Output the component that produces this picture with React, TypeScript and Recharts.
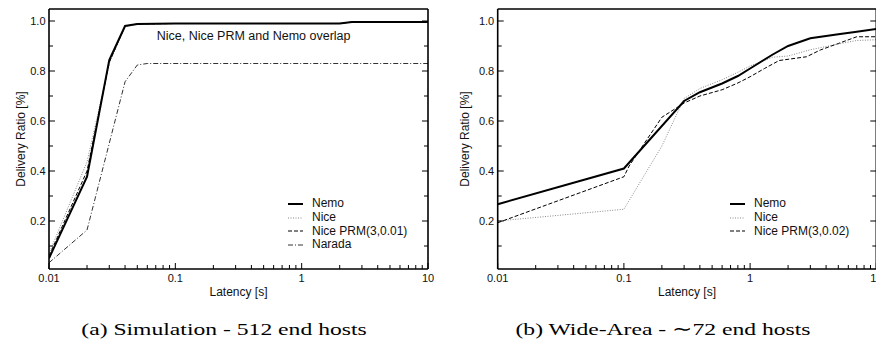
import React from "react";
import { LineChart, Line, XAxis, YAxis, Label } from "recharts";

// axis ticks
const LATENCY_TICKS = [
  0.01, 0.02, 0.03, 0.04, 0.05, 0.06, 0.07, 0.08, 0.09,
  0.1, 0.2, 0.3, 0.4, 0.5, 0.6, 0.7, 0.8, 0.9,
  1, 2, 3, 4, 5, 6, 7, 8, 9, 10,
];
const LATENCY_LABELS = [0.01, 0.1, 1, 10];
const RATIO_TICKS = [0.1, 0.2, 0.3, 0.4, 0.5, 0.6, 0.7, 0.8, 0.9, 1.0];
const RATIO_LABELS = [0.2, 0.4, 0.6, 0.8, 1.0];

// (a) simulation, 512 end hosts
const simLatency = [0.01, 0.02, 0.03, 0.04, 0.05, 0.1, 1, 2, 2.5, 10];
const simNemo = [0.051, 0.377, 0.844, 0.98, 0.988, 0.99, 0.99, 0.99, 0.996, 0.996];
const simNice = [0.07, 0.437, 0.83, 0.978, 0.988, 0.99, 0.99, 0.99, 0.996, 0.996];
const simNicePrm = [0.06, 0.4, 0.835, 0.979, 0.988, 0.99, 0.99, 0.99, 0.996, 0.996];
const naradaLatency = [0.01, 0.02, 0.04, 0.05, 0.06, 10];
const simNarada = [0.033, 0.164, 0.757, 0.824, 0.83, 0.83];

// (b) wide-area, ~72 end hosts
const wanNemoLatency = [0.01, 0.1, 0.3, 0.4, 0.6, 0.8, 1, 1.5, 2, 3, 5, 7, 10];
const wanNemo = [0.267, 0.41, 0.68, 0.715, 0.75, 0.78, 0.81, 0.865, 0.9, 0.931, 0.947, 0.957, 0.968];
const wanNiceLatency = [0.01, 0.1, 0.2, 0.3, 0.4, 0.6, 0.8, 1, 1.5, 2, 3, 5, 7, 10];
const wanNice = [0.2, 0.247, 0.5, 0.69, 0.73, 0.765, 0.795, 0.82, 0.855, 0.86, 0.885, 0.908, 0.922, 0.925];
const wanPrmLatency = [0.01, 0.1, 0.11, 0.2, 0.3, 0.4, 0.6, 0.8, 1, 1.3, 1.7, 2.3, 2.8, 3.6, 5, 7, 10];
const wanPrm = [0.193, 0.377, 0.42, 0.615, 0.672, 0.7, 0.725, 0.752, 0.777, 0.81, 0.842, 0.851, 0.857, 0.884, 0.91, 0.937, 0.937];

const zip = (xs: number[], ys: number[]) => xs.map((x, i) => ({ x, y: ys[i] }));

const SANS = "'Liberation Sans', Arial, Helvetica, sans-serif";
const SERIF = "'Liberation Serif', 'Times New Roman', serif";
const INK = "#111";
const FRAME = { stroke: "#000", strokeWidth: 1.6 };

type Style = { name: string; stroke: string; width: number; dash?: string };
const NEMO: Style = { name: "Nemo", stroke: "#000", width: 2 };
const NICE: Style = { name: "Nice", stroke: "#888", width: 1, dash: "1 1.5" };
const NARADA: Style = { name: "Narada", stroke: "#333", width: 1, dash: "5 2 1 2" };

const tickLen = (major: boolean) => (major ? 6 : 4);

const BottomTick = (p: any) => {
  const major = LATENCY_LABELS.includes(p.payload.value);
  return (
    <g>
      <line x1={p.x} x2={p.x} y1={p.y} y2={p.y - tickLen(major)} stroke="#000" />
      {major && (
        <text x={p.x} y={p.y + 13} textAnchor="middle" fontSize={11} fontFamily={SANS} fill={INK}>
          {String(p.payload.value)}
        </text>
      )}
    </g>
  );
};

const TopTick = (p: any) => {
  const major = LATENCY_LABELS.includes(p.payload.value);
  return <line x1={p.x} x2={p.x} y1={p.y} y2={p.y + tickLen(major)} stroke="#000" />;
};

const LeftTick = (p: any) => {
  const major = RATIO_LABELS.includes(p.payload.value);
  return (
    <g>
      <line x1={p.x} x2={p.x + tickLen(major)} y1={p.y} y2={p.y} stroke="#000" />
      {major && (
        <text x={p.x - 3.5} y={p.y + 4} textAnchor="end" fontSize={11} fontFamily={SANS} fill={INK}>
          {p.payload.value.toFixed(1)}
        </text>
      )}
    </g>
  );
};

const RightTick = (p: any) => {
  const major = RATIO_LABELS.includes(p.payload.value);
  return <line x1={p.x} x2={p.x - tickLen(major)} y1={p.y} y2={p.y} stroke="#000" />;
};

function Panel({
  series,
  margin,
  width,
  yTitleGap,
}: {
  series: { style: Style; data: { x: number; y: number }[] }[];
  margin: { top: number; right: number; bottom: number; left: number };
  width: number;
  yTitleGap: number;
}) {
  // axes get a 1px band so recharts still draws them; ticks sit on the plot edge
  const xCommon = {
    type: "number" as const,
    scale: "log" as const,
    domain: [0.01, 10],
    allowDataOverflow: true,
    ticks: LATENCY_TICKS,
    interval: 0 as const,
    height: 1,
    tickSize: 0,
    tickMargin: 0,
    tickLine: false,
    axisLine: FRAME,
  };
  const yCommon = {
    type: "number" as const,
    domain: [0.008, 1.048],
    allowDataOverflow: true,
    ticks: RATIO_TICKS,
    interval: 0 as const,
    width: 1,
    tickSize: 0,
    tickMargin: 0,
    tickLine: false,
    axisLine: FRAME,
  };
  return (
    <LineChart width={width} height={310} margin={margin}>
      <XAxis dataKey="x" {...xCommon} tick={BottomTick}>
        <Label
          content={(lp: any) => (
            <text
              x={lp.viewBox.x + lp.viewBox.width / 2}
              y={lp.viewBox.y + 26.5}
              textAnchor="middle"
              fontSize={12}
              fontFamily={SANS}
              fill={INK}
            >
              Latency [s]
            </text>
          )}
        />
      </XAxis>
      <XAxis xAxisId="top" orientation="top" {...xCommon} tick={TopTick} />
      <YAxis {...yCommon} tick={LeftTick}>
        <Label
          content={(lp: any) => {
            const cx = lp.viewBox.x + lp.viewBox.width - yTitleGap;
            const cy = lp.viewBox.y + lp.viewBox.height / 2;
            return (
              <text
                x={cx}
                y={cy}
                transform={`rotate(-90 ${cx} ${cy})`}
                textAnchor="middle"
                fontSize={12}
                fontFamily={SANS}
                fill={INK}
              >
                Delivery Ratio [%]
              </text>
            );
          }}
        />
      </YAxis>
      <YAxis yAxisId="right" orientation="right" {...yCommon} tick={RightTick} />
      {series.map((s) => (
        <Line
          key={s.style.name}
          data={s.data}
          dataKey="y"
          type="linear"
          stroke={s.style.stroke}
          strokeWidth={s.style.width}
          strokeDasharray={s.style.dash}
          dot={false}
          activeDot={false}
          isAnimationActive={false}
        />
      ))}
    </LineChart>
  );
}

function LegendBox({ items, left, top }: { items: Style[]; left: number; top: number }) {
  return (
    <div style={{ position: "absolute", left, top, fontFamily: SANS, fontSize: 12, color: INK }}>
      {items.map((it) => (
        <div key={it.name} style={{ display: "flex", alignItems: "center", height: 13.8 }}>
          <svg width={15} height={6} style={{ marginRight: 9 }}>
            <line x1={0} x2={15} y1={3} y2={3} stroke={it.stroke} strokeWidth={it.width} strokeDasharray={it.dash} />
          </svg>
          <span style={{ lineHeight: "13.8px", whiteSpace: "nowrap" }}>{it.name}</span>
        </div>
      ))}
    </div>
  );
}

function Caption({ text, center }: { text: string; center: number }) {
  return (
    <div
      style={{
        position: "absolute",
        left: center - 200,
        width: 400,
        top: 321,
        textAlign: "center",
        fontFamily: SERIF,
        fontSize: 17.5,
        lineHeight: 1,
        color: "#000",
        transform: "scaleX(1.35)",
        whiteSpace: "nowrap",
      }}
    >
      {text}
    </div>
  );
}

export default function App() {
  const simPrm: Style = { name: "Nice PRM(3,0.01)", stroke: "#000", width: 1, dash: "4 2" };
  const wanPrmStyle: Style = { name: "Nice PRM(3,0.02)", stroke: "#000", width: 1, dash: "4 2" };
  return (
    <div
      style={{
        position: "fixed",
        left: 0,
        top: 0,
        width: 876,
        height: 362,
        overflow: "hidden",
        background: "#fff",
      }}
    >
      <div style={{ position: "absolute", left: 0, top: 0 }}>
        <Panel
          width={440}
          margin={{ top: 8, right: 11, bottom: 40, left: 48 }}
          yTitleGap={24}
          series={[
            { style: NARADA, data: zip(naradaLatency, simNarada) },
            { style: NICE, data: zip(simLatency, simNice) },
            { style: simPrm, data: zip(simLatency, simNicePrm) },
            { style: NEMO, data: zip(simLatency, simNemo) },
          ]}
        />
      </div>
      <div style={{ position: "absolute", left: 440, top: 0 }}>
        <Panel
          width={450}
          margin={{ top: 8, right: 12.7, bottom: 40, left: 56.7 }}
          yTitleGap={28.7}
          series={[
            { style: NICE, data: zip(wanNiceLatency, wanNice) },
            { style: wanPrmStyle, data: zip(wanPrmLatency, wanPrm) },
            { style: NEMO, data: zip(wanNemoLatency, wanNemo) },
          ]}
        />
      </div>
      <div
        style={{
          position: "absolute",
          left: 156.7,
          top: 30,
          fontFamily: SANS,
          fontSize: 12.5,
          lineHeight: 1,
          color: INK,
          whiteSpace: "nowrap",
        }}
      >
        Nice, Nice PRM and Nemo overlap
      </div>
      <LegendBox items={[NEMO, NICE, simPrm, NARADA]} left={288} top={197} />
      <LegendBox items={[NEMO, NICE, wanPrmStyle]} left={730} top={197} />
      <Caption text="(a) Simulation - 512 end hosts" center={223.5} />
      <Caption text="(b) Wide-Area - ∼72 end hosts" center={663} />
    </div>
  );
}
